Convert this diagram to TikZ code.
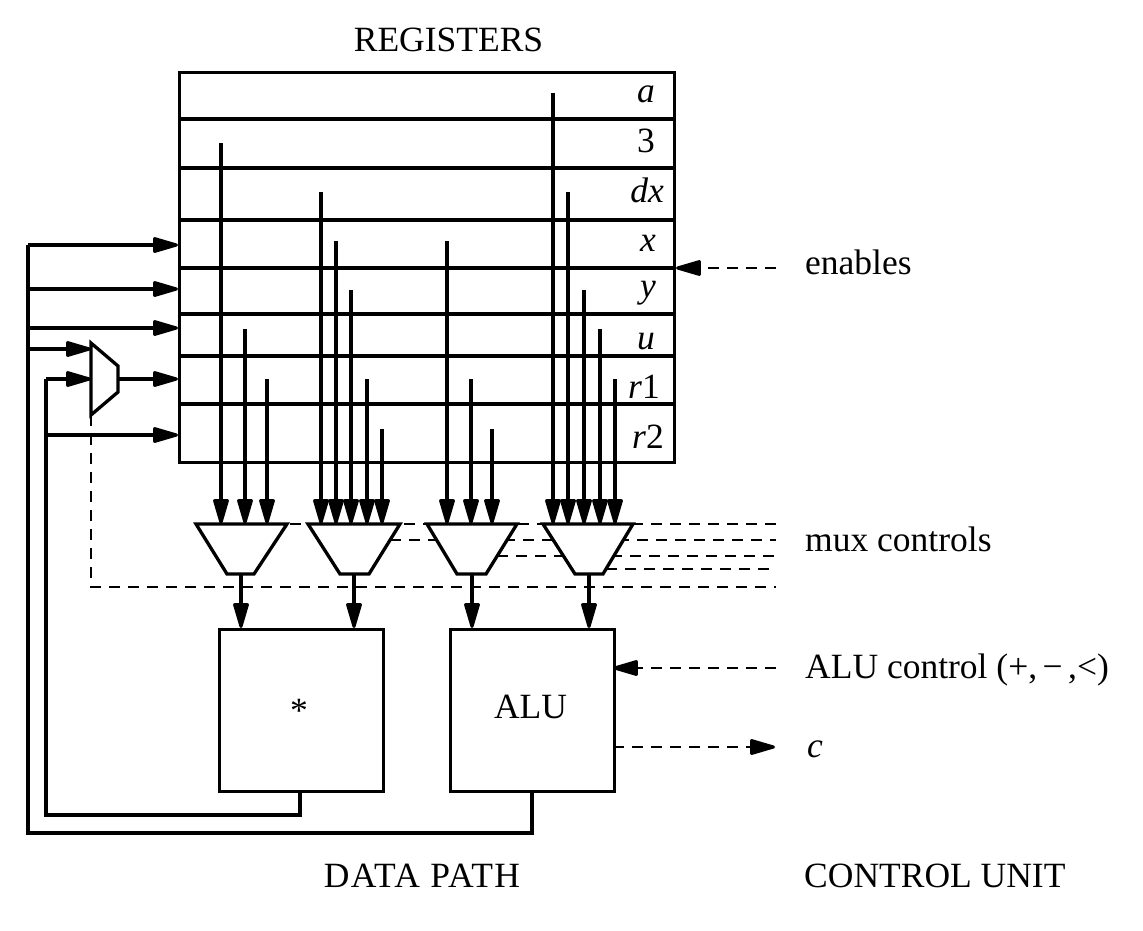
\documentclass[tikz,border=0pt]{standalone}
\usepackage{fontspec}
\setmainfont{Liberation Serif}
\usetikzlibrary{arrows.meta}
\tikzset{
  x=1pt,y=-1pt,
  wire/.style={line width=3.3pt,line join=miter},
  headtip/.tip={Triangle[length=29pt,width=16pt,line width=3pt,round]},
  arr/.style={wire,-{headtip}},
  ctl/.style={line width=2.6pt,dash pattern=on 11pt off 8pt},
  thinctl/.style={line width=2pt,dash pattern=on 11pt off 8pt},
  ctlarr/.style={thinctl,-{Triangle[length=29pt,width=16pt,line width=3pt,round,sep=0pt]}},
  box/.style={draw,line width=3.3pt,fill=white,inner sep=0pt,anchor=north west},
  lab/.style={font=\fontsize{35.5}{38}\selectfont,inner sep=0pt},
  reg/.style={lab,anchor=base east},
  note/.style={lab,anchor=base west},
  muxshape/.style={draw,line width=3.3pt,fill=white,line join=miter}
}
\begin{document}
\begin{tikzpicture}
\useasboundingbox (0,0) rectangle (1143,930);
% register file
\node[box,minimum width=495pt,minimum height=390pt] (regs) at (178,71) {};
\foreach \n/\y in {a/119,b/168,c/220,d/268,e/314,f/356,g/404}{
  \coordinate (rl\n) at (178,\y);
  \coordinate (rr\n) at (673,\y);
  \draw[wire] (rl\n) -- (rr\n);
}
\node[reg] (ra) at (655,102) {\textit{a}};
\node[reg] (rb) at (655,152) {3};
\node[reg] (rc) at (664,202) {\textit{dx}};
\node[reg] (rd) at (656,251) {\textit{x}};
\node[reg] (re) at (656,297) {\textit{y}};
\node[reg] (rf) at (655,349) {\textit{u}};
\node[reg] (rg) at (660,398) {\textit{r}1};
\node[reg] (rh) at (664,448) {\textit{r}2};
\node[lab,anchor=base] (title) at (448.5,51) {REGISTERS};
% control lines behind the multiplexers
\foreach \n/\xa/\y in {p/195/524,q/390/540,r/497/556,s/606/569}{
  \coordinate (cs\n) at (\xa,\y);
  \coordinate (ce\n) at (776,\y);
  \draw[ctl] (cs\n) -- (ce\n);
}
% register outputs to the multiplexers
\foreach \x/\y in {221/143,245/329,267/379,321/192,336/241,351/290,367/379,382/429,447/241,471/379,492/429,553/93,568/192,584/290,600/329,615/379}{
  \coordinate (os\x) at (\x,\y);
  \coordinate (oe\x) at (\x,524);
}
% multiplexers
\foreach \n/\a/\b/\c/\d in {1/196/227/254/287,2/308/340/369/400,3/427/457/486/517,4/543/575/603/633}{
  \coordinate (m\n a) at (\a,524);
  \coordinate (m\n b) at (\b,574);
  \coordinate (m\n c) at (\c,574);
  \coordinate (m\n d) at (\d,524);
  \draw[muxshape] (m\n a) -- (m\n b) -- (m\n c) -- (m\n d) -- cycle;
}
\foreach \x in {221,245,267,321,336,351,367,382,447,471,492,553,568,584,600,615}{
  \draw[arr] (os\x) -- (oe\x);
}
% function units
\node[box,minimum width=164pt,minimum height=162pt] (mul) at (218,628) {};
\node[box,minimum width=164pt,minimum height=162pt] (alu) at (449,628) {};
\node[lab] (mullab) at (299,711) {*};
\node[lab,anchor=base] (alulab) at (530.5,718) {ALU};
% small input mux
\coordinate (sa) at (91,343);
\coordinate (sb) at (118,366);
\coordinate (sc) at (118,392);
\coordinate (sd) at (91,415);
\draw[muxshape] (sa) -- (sb) -- (sc) -- (sd) -- cycle;
% select of the small mux
\coordinate (sel) at (91,587);
\coordinate (selr) at (776,587);
\draw[ctl] (sd) -- (sel) -- (selr);
% mux outputs
\foreach \n/\x in {1/241,2/354,3/472,4/589}{
  \coordinate (ms\n) at (\x,574);
  \coordinate (me\n) at (\x,628);
  \draw[arr] (ms\n) -- (me\n);
}
% feedback buses
\coordinate (mo) at (300,790);
\coordinate (mob) at (300,815);
\coordinate (moc) at (46,815);
\coordinate (mod) at (46,379);
\coordinate (ao) at (532,790);
\coordinate (aob) at (532,833);
\coordinate (aoc) at (28,833);
\coordinate (aod) at (28,245);
\coordinate (i1) at (178,245);
\coordinate (i2) at (178,289);
\coordinate (i3) at (178,328);
\coordinate (i4) at (178,379);
\coordinate (i5) at (178,435);
\coordinate (b2) at (28,289);
\coordinate (b3) at (28,328);
\coordinate (b4) at (28,349);
\coordinate (b5) at (46,435);
\coordinate (s1) at (91,349);
\coordinate (s2) at (91,379);
\coordinate (so) at (118,379);
\draw[wire] (ao) -- (aob) -- (aoc) -- (aod);
\draw[arr] (aod) -- (i1);
\draw[arr] (b2) -- (i2);
\draw[arr] (b3) -- (i3);
\draw[arr] (b4) -- (s1);
\draw[wire] (mo) -- (mob) -- (moc) -- (mod);
\draw[arr] (mod) -- (s2);
\draw[arr] (so) -- (i4);
\draw[arr] (b5) -- (i5);
% control unit signals
\coordinate (en) at (776,268);
\coordinate (enb) at (676,268);
\draw[ctlarr] (en) -- (enb);
\coordinate (ac) at (776,668);
\coordinate (acb) at (613,668);
\draw[ctlarr] (ac) -- (acb);
\coordinate (cs) at (613,747);
\coordinate (ce) at (775,747);
\draw[ctlarr] (cs) -- (ce);
% labels
\node[note] (enl) at (805,274) {enables};
\node[note] (mcl) at (805,551) {mux controls};
\node[note] (all) at (805,678) {ALU control (+,\kern5.5pt−\kern5.5pt,<)};
\node[note] (cl) at (807,757) {\textit{c}};
\node[lab,anchor=base] (dp) at (422,887) {\addfontfeature{LetterSpace=4}DATA PATH};
\node[note] (cu) at (804,887) {CONTROL UNIT};
\end{tikzpicture}
\end{document}
